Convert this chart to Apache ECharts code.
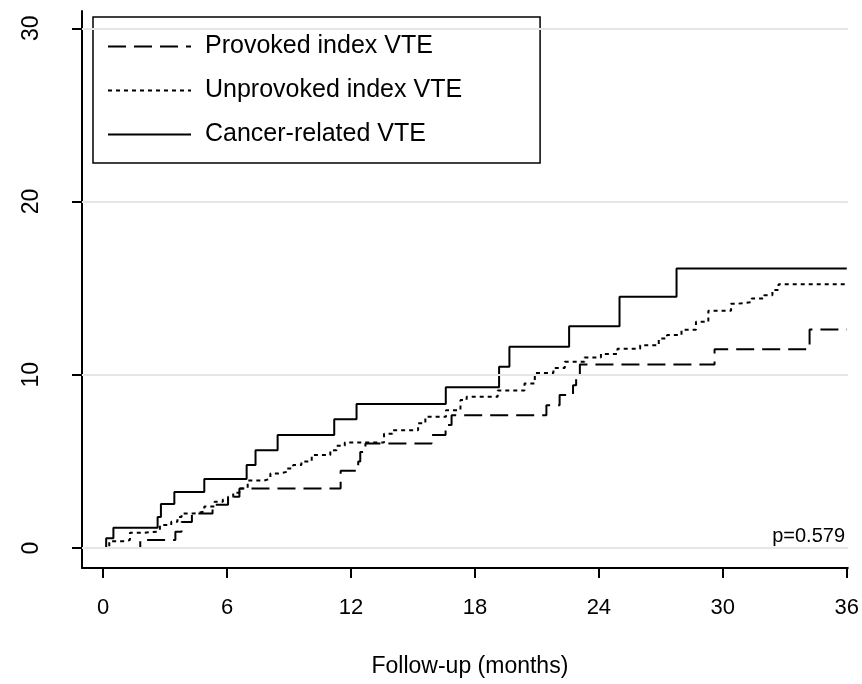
<!DOCTYPE html>
<html>
<head>
<meta charset="utf-8">
<script src="https://cdn.jsdelivr.net/npm/echarts@6/dist/echarts.min.js"></script>
<style>
  html, body { margin: 0; padding: 0; background: #fff; }
  #chart { width: 862px; height: 684px; }
</style>
</head>
<body>
<div id="chart"></div>
<script>
// 坐标轴刻度
var xTicks = [0, 6, 12, 18, 24, 30, 36];
var yTicks = [0, 10, 20, 30];

// 三组累计发生率 (阶梯)
var provokedT = [0, 1.8, 3.5, 3.8, 4.3, 5.3, 6.05, 6.6, 11.5, 12.35, 12.45, 12.7, 15.9, 16.58, 16.87, 21.46, 22.1, 22.75, 22.9, 23.08, 29.6, 34.2, 36];
var provokedV = [0, 0.46, 0.94, 1.5, 2.0, 2.5, 2.96, 3.44, 4.46, 5.0, 5.54, 6.04, 6.52, 7.1, 7.67, 8.25, 8.83, 9.4, 9.98, 10.6, 11.48, 12.62, 12.62];

var unprovokedT = [0, 0.3, 1.0, 1.3, 1.9, 2.6, 2.75, 3.3, 3.6, 3.8, 4.4, 4.9, 5.4, 5.8, 6.05, 6.3, 6.6, 7.0, 7.8, 8.1, 8.5, 8.9, 9.2, 9.6, 10.1, 11.0, 11.3, 11.7, 13.6, 14.0, 15.25, 15.6, 16.6, 17.3, 17.6, 19.1, 20.4, 20.9, 21.8, 22.35, 23.3, 24.1, 24.9, 26.0, 26.9, 27.3, 28.0, 28.7, 29.3, 30.4, 30.7, 31.4, 32.0, 32.4, 32.7, 36];
var unprovokedV = [0, 0.4, 0.46, 0.88, 0.94, 1.04, 1.33, 1.52, 1.8, 2.0, 2.1, 2.4, 2.67, 2.8, 2.96, 3.2, 3.44, 3.9, 4.0, 4.3, 4.4, 4.6, 4.79, 5.0, 5.37, 5.65, 5.9, 6.1, 6.6, 6.8, 7.2, 7.58, 7.96, 8.54, 8.73, 9.1, 9.5, 10.1, 10.4, 10.75, 11.0, 11.2, 11.5, 11.7, 12.1, 12.3, 12.6, 13.06, 13.7, 14.1, 14.2, 14.4, 14.6, 14.9, 15.23, 15.23];

var cancerT = [0, 0.15, 0.5, 2.64, 2.8, 3.45, 4.9, 6.95, 7.38, 8.45, 11.19, 12.27, 16.59, 19.17, 19.67, 22.56, 25.0, 27.76, 36];
var cancerV = [0, 0.56, 1.17, 1.8, 2.54, 3.23, 3.98, 4.79, 5.65, 6.52, 7.44, 8.31, 9.29, 10.46, 11.62, 12.81, 14.5, 16.13, 16.13];

var seriesNames = ['Provoked index VTE', 'Unprovoked index VTE', 'Cancer-related VTE'];
var pText = 'p=0.579';

function pairs(ts, vs) {
  return ts.map(function (t, i) { return [t, vs[i]]; });
}

var font = 'Liberation Sans, Arial, sans-serif';

var myChart = echarts.init(document.getElementById('chart'));

function kmLine(name, data, dash) {
  return {
    name: name,
    type: 'line',
    step: 'end',
    data: data,
    symbol: 'none',
    z: 3,
    lineStyle: { color: '#000', width: 2, type: dash },
    itemStyle: { color: '#000' }
  };
}

var option = {
  animation: false,
  backgroundColor: '#fff',
  grid: { left: 82, right: 14, top: 11, bottom: 116 },
  legend: {
    data: seriesNames,
    orient: 'vertical',
    left: 93,
    top: 17,
    itemWidth: 83,
    itemHeight: 14,
    itemGap: 19,
    padding: [17, 78, 16, 14],
    borderColor: '#000',
    borderWidth: 1.5,
    itemStyle: { color: 'rgba(0,0,0,0)', borderWidth: 0 },
    textStyle: { fontSize: 25, color: '#000', fontFamily: font, padding: [0, 0, 0, 9] }
  },
  xAxis: {
    type: 'value',
    min: -1.02,
    max: 36.05,
    name: 'Follow-up (months)',
    nameLocation: 'middle',
    nameGap: 87,
    nameTextStyle: { fontSize: 23, color: '#000', fontFamily: font, padding: [0, 0, 0, 10] },
    axisLine: { onZero: false, lineStyle: { color: '#000', width: 2 } },
    axisTick: { customValues: xTicks, length: 10, lineStyle: { color: '#000', width: 2 } },
    axisLabel: { customValues: xTicks, fontSize: 22, color: '#000', fontFamily: font, margin: 29 },
    splitLine: { show: false }
  },
  yAxis: {
    type: 'value',
    min: -1.15,
    max: 31,
    axisLine: { show: true, onZero: false, lineStyle: { color: '#000', width: 2 } },
    axisTick: { show: true, customValues: yTicks, length: 10, lineStyle: { color: '#000', width: 2 } },
    axisLabel: { customValues: yTicks, rotate: 90, fontSize: 23, color: '#000', fontFamily: font, margin: 39 },
    splitLine: { show: false }
  },
  graphic: [{
    type: 'text',
    right: 17,
    top: 526,
    style: { text: pText, fill: '#000', font: '20px ' + font }
  }],
  series: [
    {
      name: 'grid',
      type: 'line',
      data: [],
      z: 1,
      markLine: {
        silent: true,
        symbol: 'none',
        label: { show: false },
        lineStyle: { color: '#e6e6e6', width: 2, type: 'solid' },
        data: yTicks.map(function (v) { return { yAxis: v }; })
      }
    },
    kmLine(seriesNames[0], pairs(provokedT, provokedV), [18, 8]),
    kmLine(seriesNames[1], pairs(unprovokedT, unprovokedV), [4, 4]),
    kmLine(seriesNames[2], pairs(cancerT, cancerV), 'solid')
  ]
};

myChart.setOption(option);
</script>
</body>
</html>
